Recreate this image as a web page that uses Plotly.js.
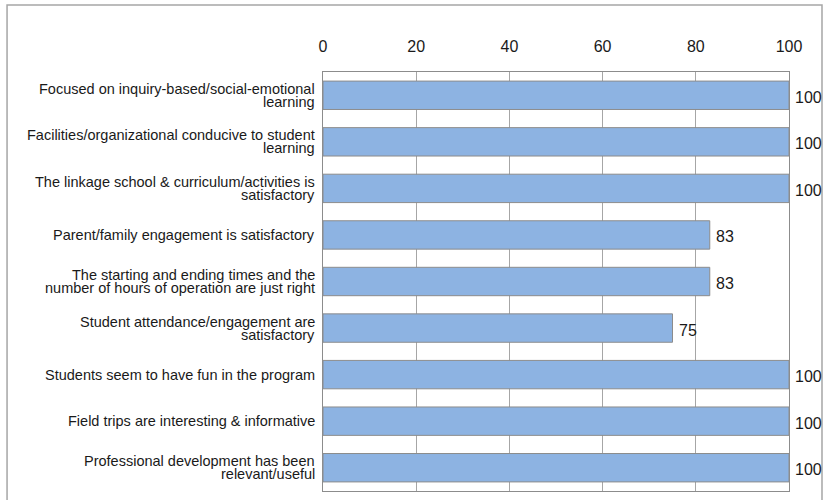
<!DOCTYPE html>
<html>
<head>
<meta charset="utf-8">
<script src="https://cdn.plot.ly/plotly-3.0.1.min.js"></script>
<style>
  html, body { margin: 0; padding: 0; background: #ffffff; }
  #chart { width: 826px; height: 500px; }
</style>
</head>
<body>
<div id="chart"></div>
<script>
// Program strengths: share of respondents agreeing (%)
const categories = [
  "Focused on inquiry-based/social-emotional\nlearning",
  "Facilities/organizational conducive to student\nlearning",
  "The linkage school & curriculum/activities is\nsatisfactory",
  "Parent/family engagement is satisfactory",
  "The starting and ending times and the\nnumber of hours of operation are just right",
  "Student attendance/engagement are\nsatisfactory",
  "Students seem to have fun in the program",
  "Field trips are interesting & informative",
  "Professional development has been\nrelevant/useful"
];
const values = [100, 100, 100, 83, 83, 75, 100, 100, 100];
const tickValues = [0, 20, 40, 60, 80, 100];

const labelFont = "Liberation Sans, Arial, sans-serif";
const ids = categories.map((_, i) => "c" + i);

const trace = {
  type: "bar",
  orientation: "h",
  x: values,
  y: ids,
  marker: { color: "#8db3e2", line: { color: "#8c8c8c", width: 1 } },
  hoverinfo: "none"
};

const annotations = [];
// category labels, one annotation per line for tight line spacing
categories.forEach((label, i) => {
  const lines = label.split("\n");
  lines.forEach((ln, j) => {
    annotations.push({
      xref: "paper", yref: "y", x: 0, y: ids[i],
      text: ln, showarrow: false,
      xanchor: "right", yanchor: "middle", borderpad: 0,
      xshift: -7, yshift: ((lines.length - 1) / 2 - j) * 13,
      font: { family: labelFont, size: 14.5, color: "#1a1a1a" }
    });
  });
});
// value labels beside each bar
values.forEach((v, i) => {
  annotations.push({
    xref: "x", yref: "y", x: v, y: ids[i],
    text: String(v), showarrow: false,
    xanchor: "left", yanchor: "middle", xshift: 4, yshift: -2,
    font: { family: labelFont, size: 16, color: "#1a1a1a" }
  });
});

const layout = {
  width: 826, height: 500,
  margin: { l: 323, r: 37, t: 72, b: 9, pad: 0 },
  paper_bgcolor: "#ffffff", plot_bgcolor: "#ffffff",
  showlegend: false,
  bargap: 0.39,
  xaxis: {
    range: [0, 100], side: "top",
    tickvals: tickValues, ticktext: tickValues.map(String),
    showgrid: true, gridcolor: "#a6a6a6", gridwidth: 1,
    zeroline: false,
    showline: true, linecolor: "#8c8c8c", linewidth: 1, mirror: true,
    ticks: "", ticklabelstandoff: 13,
    tickfont: { family: labelFont, size: 16, color: "#1a1a1a" },
    fixedrange: true
  },
  yaxis: {
    type: "category", autorange: "reversed",
    showticklabels: false, showgrid: false, zeroline: false,
    showline: true, linecolor: "#8c8c8c", linewidth: 1, mirror: true,
    ticks: "", fixedrange: true
  },
  annotations: annotations,
  shapes: [{
    type: "rect", xref: "paper", yref: "paper",
    x0: -0.678, x1: 1.0708, y0: -0.1, y1: 1.16,
    line: { color: "#a6a6a6", width: 1.5 }, fillcolor: "rgba(0,0,0,0)",
    layer: "below"
  }]
};

Plotly.newPlot("chart", [trace], layout, { displayModeBar: false, staticPlot: true });
</script>
</body>
</html>
